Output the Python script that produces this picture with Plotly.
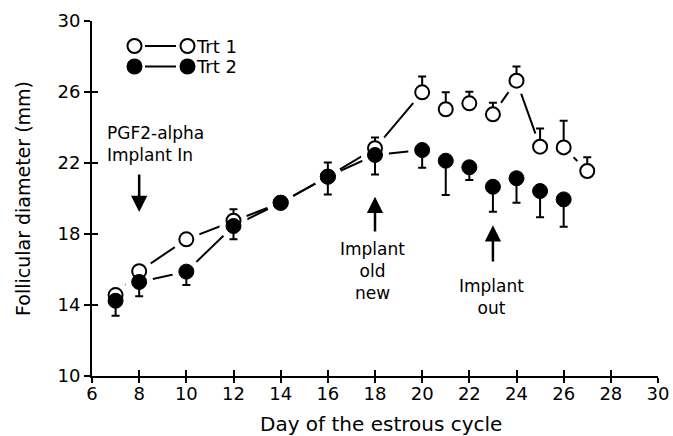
import plotly.graph_objects as go

# ---- data ----
days_t1 = [7, 8, 10, 12, 14, 16, 18, 20, 21, 22, 23, 24, 25, 26, 27]
trt1 = [14.56, 15.90, 17.70, 18.75, 19.76, 21.23, 22.83, 25.98, 25.03, 25.36, 24.74, 26.64, 22.92, 22.88, 21.55]
trt1_err_up = [0, 0, 0, 0.65, 0, 0.80, 0.60, 0.90, 0.95, 0.65, 0.65, 0.80, 1.03, 1.50, 0.77]
# whether each point is joined to the next one
trt1_join = [1, 1, 1, 1, 1, 1, 1, 0, 0, 0, 1, 1, 0, 1]

days_t2 = [7, 8, 10, 12, 14, 16, 18, 20, 21, 22, 23, 24, 25, 26]
trt2 = [14.24, 15.30, 15.88, 18.45, 19.76, 21.23, 22.45, 22.73, 22.13, 21.76, 20.66, 21.14, 20.42, 19.95]
trt2_err_down = [0.85, 0.80, 0.75, 0.75, 0, 1.00, 1.10, 1.00, 1.93, 0.72, 1.40, 1.38, 1.48, 1.54]
trt2_join = [1, 1, 1, 1, 1, 1, 1, 0, 1, 0, 1, 0, 0]

x_ticks = [6, 8, 10, 12, 14, 16, 18, 20, 22, 24, 26, 28, 30]
y_ticks = [10, 14, 18, 22, 26, 30]

FONT = "DejaVu Sans"


def joined(xs, ys, join):
    lx, ly = [], []
    for i in range(len(xs)):
        lx.append(xs[i]); ly.append(ys[i])
        if i < len(join) and not join[i]:
            lx.append(None); ly.append(None)
    return lx, ly


fig = go.Figure()

for xs, ys, jn in [(days_t1, trt1, trt1_join), (days_t2, trt2, trt2_join)]:
    lx, ly = joined(xs, ys, jn)
    fig.add_trace(go.Scatter(x=lx, y=ly, mode="lines", line=dict(color="black", width=2),
                             showlegend=False, hoverinfo="skip", connectgaps=False))

# white halos so the joining lines stop short of the symbols
fig.add_trace(go.Scatter(x=days_t1 + days_t2, y=trt1 + trt2, mode="markers",
                         marker=dict(size=28, color="white", opacity=1, line=dict(width=0)),
                         showlegend=False, hoverinfo="skip"))

fig.add_trace(go.Scatter(
    x=days_t1, y=trt1, mode="markers", name="Trt 1",
    marker=dict(size=14, color="white", line=dict(color="black", width=2)),
    error_y=dict(type="data", symmetric=False, array=trt1_err_up,
                 arrayminus=[0] * len(trt1), color="black", thickness=2, width=4),
    showlegend=False))

fig.add_trace(go.Scatter(
    x=days_t2, y=trt2, mode="markers", name="Trt 2",
    marker=dict(size=15, color="black", line=dict(color="black", width=1)),
    error_y=dict(type="data", symmetric=False, array=[0] * len(trt2),
                 arrayminus=trt2_err_down, color="black", thickness=2, width=4),
    showlegend=False))

# overlay axes carrying the inner halves of the ticks
fig.add_trace(go.Scatter(x=[None], y=[None], xaxis="x2", yaxis="y2",
                         showlegend=False, hoverinfo="skip"))

annots = []
# arrows
for x, tip, tail in [(8, 19.24, 21.44), (18, 20.1, 18.06), (23, 18.5, 16.37)]:
    annots.append(dict(x=x, y=tip, ax=x, ay=tail, xref="x", yref="y", axref="x", ayref="y",
                       text="", showarrow=True, arrowhead=2, arrowsize=1.3, arrowwidth=2.5,
                       arrowcolor="black"))
tf = dict(family=FONT, size=17, color="black")
annots.append(dict(x=6.55, y=24.35, xref="x", yref="y", xanchor="left", yanchor="top",
                   align="left", text="PGF2-alpha<br>Implant In", showarrow=False, font=tf))
annots.append(dict(x=17.9, y=17.85, xref="x", yref="y", xanchor="center", yanchor="top",
                   align="center", text="Implant<br>old<br>new", showarrow=False, font=tf))
annots.append(dict(x=22.95, y=15.75, xref="x", yref="y", xanchor="center", yanchor="top",
                   align="center", text="Implant<br>out", showarrow=False, font=tf))

# legend drawn by hand
PW, PH, L, T = 566.0, 355.0, 92.0, 21.0
def px(xp):
    return (xp - L) / PW
def py(yp):
    return 1 - (yp - T) / PH

shapes = []
for yy, fill, label in [(46, "white", "Trt 1"), (66.5, "black", "Trt 2")]:
    shapes.append(dict(type="line", xref="paper", yref="paper", x0=px(145), x1=px(176),
                       y0=py(yy), y1=py(yy), line=dict(color="black", width=2)))
    for cx in (134.5, 187.5):
        shapes.append(dict(type="circle", xref="paper", yref="paper",
                           xsizemode="pixel", ysizemode="pixel",
                           xanchor=px(cx), yanchor=py(yy), x0=-7, x1=7, y0=-7, y1=7,
                           fillcolor=fill, line=dict(color="black", width=2)))
    annots.append(dict(x=px(194), y=py(yy), xref="paper", yref="paper", xanchor="left",
                       yanchor="middle", text=label, showarrow=False,
                       font=dict(family=FONT, size=18, color="black")))

# x-axis title
annots.append(dict(x=px(381), y=py(424), xref="paper", yref="paper", xanchor="center",
                   yanchor="middle", text="Day of the estrous cycle", showarrow=False,
                   font=dict(family=FONT, size=20, color="black")))

axis_font = dict(family=FONT, size=18, color="black")
fig.update_layout(
    width=673, height=436,
    margin=dict(l=92, r=15, t=21, b=60),
    paper_bgcolor="white", plot_bgcolor="white",
    font=dict(family=FONT, color="black"),
    xaxis=dict(range=[6, 30], tickvals=x_ticks, ticks="outside", ticklen=5, tickwidth=1.5,
               tickcolor="black", showline=True, linecolor="black", linewidth=2,
               showgrid=False, zeroline=False, tickfont=axis_font, ticklabelstandoff=-5,
               automargin=False),
    yaxis=dict(range=[10, 30], tickvals=y_ticks, ticks="outside", ticklen=6, tickwidth=1.5,
               tickcolor="black", showline=True, linecolor="black", linewidth=2,
               showgrid=False, zeroline=False, tickfont=axis_font, automargin=False,
               title=dict(text="Follicular diameter (mm)",
                          font=dict(family=FONT, size=19, color="black"), standoff=22)),
    xaxis2=dict(range=[6, 30], tickvals=x_ticks, ticks="inside", ticklen=6, tickwidth=1.5,
                tickcolor="black", showticklabels=False, showline=False, showgrid=False,
                zeroline=False, overlaying="x", anchor="y2"),
    yaxis2=dict(range=[10, 30], tickvals=y_ticks, ticks="inside", ticklen=6, tickwidth=1.5,
                tickcolor="black", showticklabels=False, showline=False, showgrid=False,
                zeroline=False, overlaying="y", anchor="x2", side="left"),
    annotations=annots, shapes=shapes, showlegend=False,
)

fig.write_html("out.html")
